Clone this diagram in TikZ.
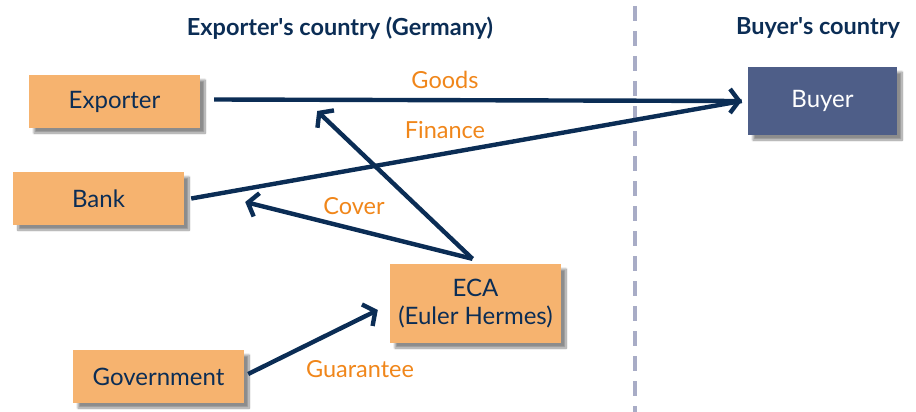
\documentclass[tikz,border=0pt]{standalone}
\usepackage{fontspec}
\setmainfont{Lato}
\usetikzlibrary{arrows.meta,shadows.blur}
\definecolor{navy}{HTML}{0B2D55}
\definecolor{lbl}{HTML}{F0861A}
\definecolor{boxfill}{HTML}{F6B36F}
\definecolor{buyerfill}{HTML}{4E5E88}
\definecolor{dashcol}{HTML}{A8ACC6}
\tikzset{
  box/.style={rectangle, fill=boxfill, text=navy, font=\fontsize{24}{28}\selectfont, align=center, inner sep=0pt,
    minimum width=171pt, minimum height=53pt,
    blur shadow={shadow xshift=5pt, shadow yshift=-5pt, shadow blur steps=10, shadow opacity=45}},
  conn/.style={draw=navy, line width=4.4pt},
  arr/.style={conn, -{Straight Barb[length=9pt,width=24pt,line width=4.4pt]}},
  lab/.style={text=lbl, font=\fontsize{23.5}{26}\selectfont},
  title/.style={text=navy, font=\fontsize{23.5}{26}\selectfont\bfseries}
}
\begin{document}
\begin{tikzpicture}[x=1pt,y=-1pt]
\useasboundingbox (0,0) rectangle (916,412);
\draw[dashcol, line width=4pt, dash pattern=on 15pt off 10pt] (635,6) -- (635,412);
\node[title] (t1) at (340,28) {Exporter\textquotesingle s country (Germany)};
\node[title] (t2) at (818,28) {Buyer\textquotesingle s country};
\node[box] (exporter) at (114.5,101.5) {Exporter};
\node[box] (bank) at (98.5,198.5) {Bank};
\node[box, fill=buyerfill, text=white, minimum width=149pt, minimum height=68pt] (buyer) at (822.5,101) {Buyer};
\node[box, minimum height=79pt] (eca) at (475.5,303.5) {ECA\\(Euler Hermes)};
\node[box] (gov) at (158.5,376.5) {Government};
\coordinate (covtip) at ([xshift=61pt,yshift=-3.5pt]bank.east);
\coordinate (exptip) at ([xshift=117pt,yshift=-9.5pt]exporter.east);
\draw[conn] ([xshift=7pt]bank.east) -- ([xshift=-6pt]buyer.west);
\draw[arr] ([xshift=14pt,yshift=2pt]exporter.east) -- ([xshift=-6pt]buyer.west);
\draw[arr] ([xshift=-3pt,yshift=5pt]eca.north) -- (covtip);
\draw[arr] ([xshift=-3pt,yshift=5pt]eca.north) -- (exptip);
\draw[arr] ([xshift=4pt,yshift=2.5pt]gov.east) -- ([xshift=-12pt,yshift=-6.5pt]eca.west);
\node[lab] (lgoods) at (445,80) {Goods};
\node[lab] (lfin) at (445,130) {Finance};
\node[lab] (lcov) at (354,206) {Cover};
\node[lab] (lgua) at (360,369) {Guarantee};
\end{tikzpicture}
\end{document}
